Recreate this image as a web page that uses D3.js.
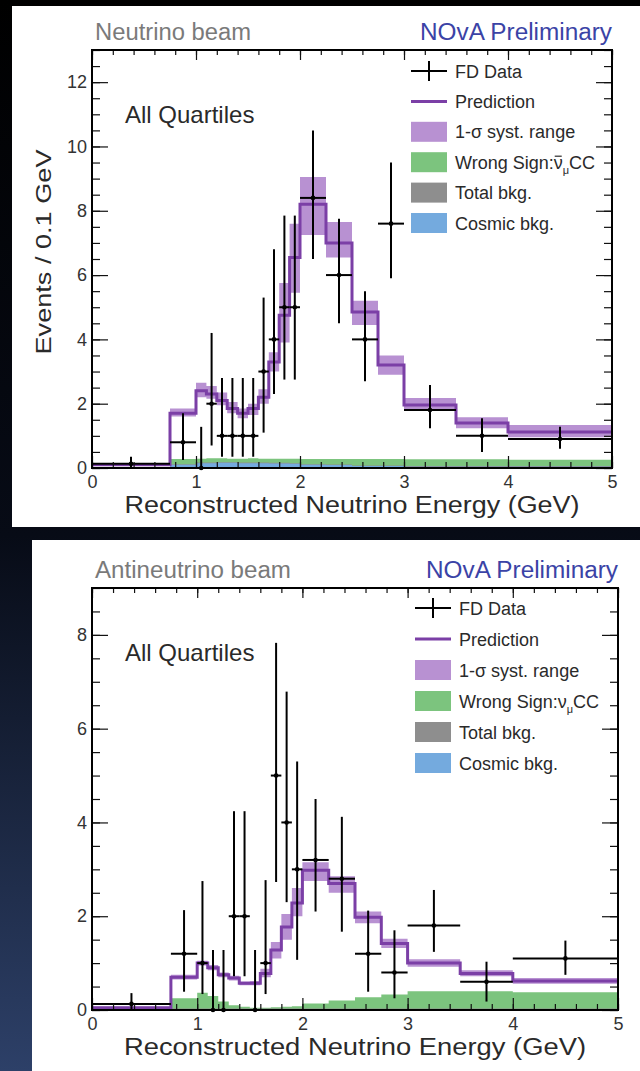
<!DOCTYPE html>
<html lang="en">
<head>
<meta charset="UTF-8">
<title>NOvA FD spectra</title>
<script src="https://cdn.jsdelivr.net/npm/d3@7"></script>
<style>
  html, body { margin: 0; padding: 0; background: #000; }
  svg { display: block; font-family: "Liberation Sans", Arial, Helvetica, sans-serif; }
</style>
</head>
<body>
<svg id="chart" width="640" height="1071"></svg>
<script>
// bin edges in reconstructed energy (GeV), same for both beams
const binEdges = [0, 0.75, 1.0, 1.1, 1.2, 1.3, 1.4, 1.5, 1.6, 1.7, 1.8, 1.9, 2.0, 2.25, 2.5, 2.75, 3.0, 3.5, 4.0, 5.0];

// neutrino beam (events / 0.1 GeV)
const nuData      = [0.13, 0.8, 0, 2, 1, 1, 1, 1, 3, 4, 5, 5, 8.4, 6.0, 4.0, 7.6, 1.8, 1.0, 0.9];
const nuDataLo    = [0.02, 0.25, 0, 0.7, 0.35, 0.35, 0.35, 0.35, 1.1, 2.3, 2.75, 2.75, 6.5, 4.5, 2.7, 5.9, 1.24, 0.5, 0.6];
const nuDataHi    = [0.35, 1.7, 1.28, 4.2, 2.8, 2.8, 2.8, 2.8, 5.3, 6.8, 7.85, 7.85, 10.5, 7.75, 5.5, 9.5, 2.58, 1.55, 1.28];
const nuPred      = [0.1, 1.7, 2.4, 2.3, 2.1, 1.85, 1.7, 1.85, 2.2, 3.3, 4.75, 6.55, 8.2, 7.0, 4.85, 3.2, 1.96, 1.4, 1.12];
const nuSystLo    = [0.08, 1.6, 2.2, 2.15, 1.95, 1.7, 1.55, 1.65, 2.0, 3.0, 3.9, 5.45, 7.25, 6.55, 4.45, 2.9, 1.8, 1.24, 0.96];
const nuSystHi    = [0.12, 1.85, 2.65, 2.55, 2.35, 2.05, 1.85, 2.0, 2.45, 3.6, 5.75, 7.6, 9.05, 7.65, 5.2, 3.5, 2.18, 1.58, 1.34];
const nuWrongSign = [0.0, 0.16, 0.12, 0.13, 0.12, 0.11, 0.12, 0.13, 0.12, 0.13, 0.13, 0.14, 0.16, 0.17, 0.2, 0.2, 0.21, 0.21, 0.2];
const nuTotalBkg  = [0.03, 0.12, 0.17, 0.17, 0.18, 0.18, 0.17, 0.17, 0.17, 0.16, 0.16, 0.15, 0.12, 0.11, 0.08, 0.08, 0.06, 0.06, 0.06];
const nuCosmic    = [0.02, 0.1, 0.15, 0.15, 0.16, 0.16, 0.15, 0.15, 0.15, 0.14, 0.14, 0.13, 0.1, 0.09, 0.06, 0.06, 0.04, 0.04, 0.04];

// antineutrino beam
const anuData      = [0.13, 1.2, 1.0, 0, 0, 2, 2, 0, 1, 5, 4, 3, 3.2, 2.8, 1.2, 0.8, 1.8, 0.6, 1.1];
const anuDataLo    = [0.02, 0.39, 0.34, 0, 0, 0.72, 0.72, 0, 0.34, 2.73, 2.3, 1.07, 2.1, 1.67, 0.39, 0.25, 1.24, 0.18, 0.75];
const anuDataHi    = [0.36, 2.13, 2.75, 1.28, 1.28, 4.24, 4.24, 1.28, 2.77, 7.83, 6.79, 5.3, 4.5, 4.12, 2.12, 1.7, 2.56, 1.03, 1.48];
const anuPred      = [0.05, 0.7, 1.0, 0.9, 0.75, 0.68, 0.57, 0.57, 0.78, 1.28, 1.77, 2.28, 2.98, 2.7, 1.98, 1.42, 1.0, 0.78, 0.62];
const anuSystLo    = [0.04, 0.65, 0.95, 0.85, 0.7, 0.63, 0.53, 0.53, 0.7, 1.1, 1.5, 2.0, 2.75, 2.5, 1.85, 1.32, 0.92, 0.72, 0.56];
const anuSystHi    = [0.07, 0.75, 1.05, 0.96, 0.8, 0.73, 0.61, 0.62, 0.88, 1.45, 2.05, 2.6, 3.15, 2.85, 2.1, 1.52, 1.08, 0.85, 0.68];
const anuWrongSign = [0.0, 0.22, 0.34, 0.27, 0.15, 0.07, 0.04, 0.02, 0.02, 0.03, 0.04, 0.05, 0.11, 0.17, 0.24, 0.3, 0.37, 0.37, 0.35];
const anuTotalBkg  = [0.01, 0.03, 0.03, 0.03, 0.03, 0.03, 0.03, 0.03, 0.03, 0.03, 0.03, 0.03, 0.03, 0.03, 0.03, 0.03, 0.03, 0.03, 0.03];
const anuCosmic    = [0.005, 0.015, 0.015, 0.015, 0.015, 0.015, 0.015, 0.015, 0.015, 0.015, 0.015, 0.015, 0.015, 0.015, 0.015, 0.015, 0.015, 0.015, 0.015];

const xTicks = [0, 1, 2, 3, 4, 5];
const nuYTicks = [0, 2, 4, 6, 8, 10, 12];
const anuYTicks = [0, 2, 4, 6, 8];
const legendLabels = ["FD Data", "Prediction", "1-\u03c3 syst. range", "Wrong Sign:", "Total bkg.", "Cosmic bkg."];

const colPred = "#7b3fa6", colBand = "#b891d2", colGreen = "#7cc47e",
      colGray = "#8e8e8e", colBlue = "#74aade", colTxt = "#2a2a2a";

const svg = d3.select("#chart");

// slide background
const grad = svg.append("defs").append("linearGradient")
    .attr("id", "bg").attr("x1", 0).attr("y1", 0).attr("x2", 0).attr("y2", 1);
grad.append("stop").attr("offset", "0%").attr("stop-color", "#000");
grad.append("stop").attr("offset", "50%").attr("stop-color", "#070b16");
grad.append("stop").attr("offset", "100%").attr("stop-color", "#2d4068");
svg.append("rect").attr("width", 640).attr("height", 1071).attr("fill", "url(#bg)");

function drawPanel(p) {
    const g = svg.append("g");
    g.append("rect").attr("x", p.bg[0]).attr("y", p.bg[1])
        .attr("width", p.bg[2]).attr("height", p.bg[3]).attr("fill", "#fff");

    const x = d3.scaleLinear().domain([0, 5]).range([p.left, p.right]);
    const y = d3.scaleLinear().domain([0, p.yMax]).range([p.bottom, p.top]);

    // step points: one per bin low edge, plus closing edge
    const steps = arr => binEdges.map((e, i) => ({ e: e, v: arr[Math.min(i, arr.length - 1)] }));
    const stepsPair = (lo, hi) => binEdges.map((e, i) => {
        const k = Math.min(i, lo.length - 1);
        return { e: e, lo: lo[k], hi: hi[k] };
    });

    const area0 = d3.area().curve(d3.curveStepAfter)
        .x(d => x(d.e)).y0(y(0)).y1(d => y(d.v));

    // backgrounds: wrong sign stacked on total bkg, cosmic inside
    const wsTop = p.ws.map((v, i) => v + p.bkg[i]);
    g.append("path").attr("d", area0(steps(wsTop))).attr("fill", colGreen);
    g.append("path").attr("d", area0(steps(p.bkg))).attr("fill", colGray);
    g.append("path").attr("d", area0(steps(p.cosmic))).attr("fill", colBlue);

    // syst band
    const band = d3.area().curve(d3.curveStepAfter)
        .x(d => x(d.e)).y0(d => y(d.lo)).y1(d => y(d.hi));
    g.append("path").attr("d", band(stepsPair(p.systLo, p.systHi))).attr("fill", colBand);

    // prediction
    const line = d3.line().curve(d3.curveStepAfter).x(d => x(d.e)).y(d => y(d.v));
    g.append("path").attr("d", line(steps(p.pred)))
        .attr("fill", "none").attr("stroke", colPred).attr("stroke-width", 3);

    // data with error bars
    const pts = p.data.map((v, i) => ({
        x0: binEdges[i], x1: binEdges[i + 1], xc: (binEdges[i] + binEdges[i + 1]) / 2,
        v: v, lo: p.dataLo[i], hi: p.dataHi[i]
    }));
    const dg = g.append("g").attr("stroke", "#000").attr("stroke-width", 2);
    dg.selectAll("line.h").data(pts).enter().append("line").attr("class", "h")
        .attr("x1", d => x(d.x0)).attr("x2", d => x(d.x1))
        .attr("y1", d => y(d.v)).attr("y2", d => y(d.v));
    dg.selectAll("line.v").data(pts).enter().append("line").attr("class", "v")
        .attr("x1", d => x(d.xc)).attr("x2", d => x(d.xc))
        .attr("y1", d => y(d.lo)).attr("y2", d => y(d.hi));
    g.selectAll("circle.pt").data(pts).enter().append("circle").attr("class", "pt")
        .attr("cx", d => x(d.xc)).attr("cy", d => y(d.v)).attr("r", 2.3).attr("fill", "#000");

    // axes (ticks inward)
    const yMinor = d3.range(0, p.yMax + 0.01, 0.5);
    const xMinor = d3.range(0, 5.01, 0.2);
    const styleAxis = sel => {
        sel.select(".domain").remove();
        sel.selectAll("line").attr("stroke", "#111").attr("stroke-width", 1.2);
        sel.selectAll("text").attr("fill", "#333").attr("font-size", 18)
            .attr("font-family", "'Liberation Sans', Arial, sans-serif");
    };
    g.append("g").attr("transform", `translate(0,${p.bottom})`)
        .call(d3.axisBottom(x).tickValues(xMinor).tickSize(-6).tickFormat("")).call(styleAxis);
    g.append("g").attr("transform", `translate(0,${p.bottom})`)
        .call(d3.axisBottom(x).tickValues(xTicks).tickSize(-12).tickPadding(7).tickFormat(d3.format("d")))
        .call(styleAxis);
    g.append("g").attr("transform", `translate(0,${p.top})`)
        .call(d3.axisTop(x).tickValues(xMinor).tickSize(-5).tickFormat("")).call(styleAxis);
    g.append("g").attr("transform", `translate(0,${p.top})`)
        .call(d3.axisTop(x).tickValues(xTicks).tickSize(-10).tickFormat("")).call(styleAxis);
    g.append("g").attr("transform", `translate(${p.left},0)`)
        .call(d3.axisLeft(y).tickValues(yMinor).tickSize(-8).tickFormat("")).call(styleAxis);
    g.append("g").attr("transform", `translate(${p.left},0)`)
        .call(d3.axisLeft(y).tickValues(p.yTicks).tickSize(-16).tickPadding(5).tickFormat(d3.format("d")))
        .call(styleAxis);
    g.append("g").attr("transform", `translate(${p.right},0)`)
        .call(d3.axisRight(y).tickValues(yMinor).tickSize(-8).tickFormat("")).call(styleAxis);
    g.append("g").attr("transform", `translate(${p.right},0)`)
        .call(d3.axisRight(y).tickValues(p.yTicks).tickSize(-16).tickFormat("")).call(styleAxis);

    // frame
    g.append("rect").attr("x", p.left).attr("y", p.top)
        .attr("width", p.right - p.left).attr("height", p.bottom - p.top)
        .attr("fill", "none").attr("stroke", "#000").attr("stroke-width", 2);

    // titles
    g.append("text").attr("x", p.left + 3).attr("y", p.top - 10)
        .attr("font-size", 23).attr("fill", "#7a7a7a")
        .attr("textLength", p.titleLen).attr("lengthAdjust", "spacingAndGlyphs").text(p.title);
    g.append("text").attr("x", p.right).attr("y", p.top - 10).attr("text-anchor", "end")
        .attr("font-size", 23).attr("fill", "#3b43a6")
        .attr("textLength", 192).attr("lengthAdjust", "spacingAndGlyphs").text("NOvA Preliminary");
    g.append("text").attr("x", 125).attr("y", p.top + 73)
        .attr("font-size", 24).attr("fill", colTxt).text("All Quartiles");
    g.append("text").attr("x", (p.left + p.right) / 2).attr("y", p.bottom + 45)
        .attr("text-anchor", "middle").attr("font-size", 23).attr("fill", colTxt)
        .attr("textLength", p.xTitleLen).attr("lengthAdjust", "spacingAndGlyphs")
        .text("Reconstructed Neutrino Energy (GeV)");
    if (p.yTitle) {
        g.append("text").attr("transform", `translate(51,${(p.top + p.bottom) / 2 - 7}) rotate(-90)`)
            .attr("text-anchor", "middle").attr("font-size", 22).attr("fill", colTxt)
            .attr("textLength", 205).attr("lengthAdjust", "spacingAndGlyphs")
            .text(p.yTitle);
    }

    // legend
    const lg = g.append("g").attr("transform", `translate(${p.legX},${p.legY})`);
    legendLabels.forEach((lab, i) => {
        const cy = i * p.legStep;
        if (i === 0) {
            lg.append("line").attr("x1", 0).attr("x2", 36).attr("y1", cy).attr("y2", cy)
                .attr("stroke", "#000").attr("stroke-width", 2);
            lg.append("line").attr("x1", 18).attr("x2", 18).attr("y1", cy - 10).attr("y2", cy + 10)
                .attr("stroke", "#000").attr("stroke-width", 2);
        } else if (i === 1) {
            lg.append("line").attr("x1", 0).attr("x2", 36).attr("y1", cy).attr("y2", cy)
                .attr("stroke", colPred).attr("stroke-width", 3);
        } else {
            const fill = [null, null, colBand, colGreen, colGray, colBlue][i];
            lg.append("rect").attr("x", 0).attr("y", cy - 10).attr("width", 36).attr("height", 20)
                .attr("fill", fill);
        }
        const t = lg.append("text").attr("x", 44).attr("y", cy + 6.5)
            .attr("font-size", 18).attr("fill", colTxt).text(lab);
        if (i === 3) {
            t.append("tspan").text("\u03bd");
            t.append("tspan").attr("font-size", 11).attr("dy", 5).text("\u03bc");
            t.append("tspan").attr("dy", -5).text("CC");
            if (p.antiWS) {
                // bar over the nu
                const n = lab.length;
                const s = t.node().getStartPositionOfChar(n), e = t.node().getEndPositionOfChar(n);
                lg.append("line").attr("x1", s.x + 1).attr("x2", e.x - 1)
                    .attr("y1", cy - 6).attr("y2", cy - 6)
                    .attr("stroke", colTxt).attr("stroke-width", 1.2);
            }
        }
    });
}

drawPanel({
    bg: [12, 6, 628, 521], left: 92, right: 612, top: 50, bottom: 468, yMax: 13,
    yTicks: nuYTicks, title: "Neutrino beam", titleLen: 156, yTitle: "Events / 0.1 GeV", xTitleLen: 455,
    data: nuData, dataLo: nuDataLo, dataHi: nuDataHi, pred: nuPred,
    systLo: nuSystLo, systHi: nuSystHi, ws: nuWrongSign, bkg: nuTotalBkg, cosmic: nuCosmic,
    legX: 411, legY: 71, legStep: 30.4, antiWS: true
});
drawPanel({
    bg: [32, 540, 608, 531], left: 92, right: 618, top: 588, bottom: 1010, yMax: 9,
    yTicks: anuYTicks, title: "Antineutrino beam", titleLen: 196, yTitle: null, xTitleLen: 462,
    data: anuData, dataLo: anuDataLo, dataHi: anuDataHi, pred: anuPred,
    systLo: anuSystLo, systHi: anuSystHi, ws: anuWrongSign, bkg: anuTotalBkg, cosmic: anuCosmic,
    legX: 415, legY: 608, legStep: 31, antiWS: false
});
</script>
</body>
</html>
